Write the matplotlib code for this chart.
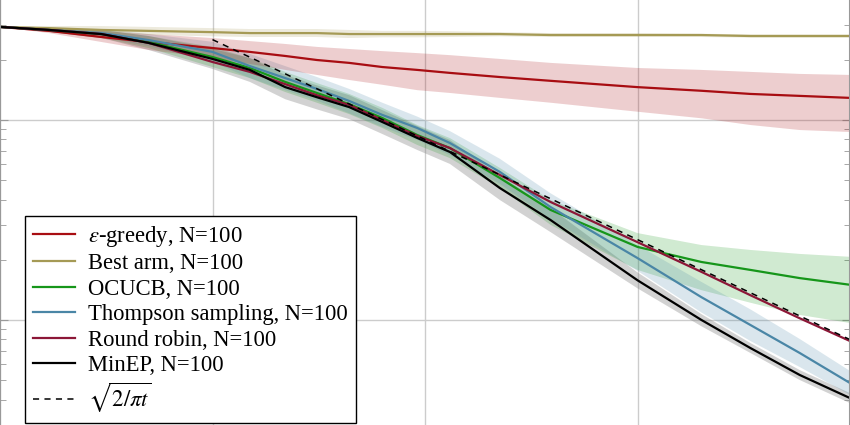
import numpy as np
import matplotlib
matplotlib.use("Agg")
import matplotlib.pyplot as plt

plt.rcParams['font.family'] = ['Liberation Serif', 'DejaVu Serif']
plt.rcParams['mathtext.fontset'] = 'stix'

# time steps (log axis)
t = [1, 1.7, 3, 5, 10, 15, 22, 31, 44, 63, 92, 131, 225, 390, 1000, 2000, 3400, 5800, 10000]

# epsilon-greedy
eps_mean = [0.292, 0.279, 0.260, 0.2455, 0.229, 0.219, 0.209, 0.1995, 0.193, 0.184, 0.178, 0.172,
            0.164, 0.157, 0.146, 0.140, 0.135, 0.132, 0.129]
eps_hi = [0.292, 0.288, 0.279, 0.269, 0.257, 0.248, 0.240, 0.232, 0.2265, 0.221, 0.216, 0.211,
          0.202, 0.193, 0.182, 0.178, 0.174, 0.170, 0.168]
eps_lo = [0.292, 0.272, 0.2455, 0.224, 0.204, 0.1905, 0.178, 0.168, 0.1585, 0.150, 0.141, 0.1365,
          0.129, 0.122, 0.110, 0.102, 0.0944, 0.0891, 0.0871]

# best arm
best_mean = [0.292, 0.288, 0.282, 0.279, 0.275, 0.272, 0.272, 0.272, 0.269, 0.269, 0.269, 0.269,
             0.269, 0.266, 0.266, 0.266, 0.263, 0.263, 0.263]
best_hi = [0.292, 0.295, 0.295, 0.292, 0.288, 0.285, 0.285, 0.285, 0.282, 0.279, 0.279, 0.278,
           0.275, 0.272, 0.272, 0.270, 0.268, 0.268, 0.268]
best_lo = [0.292, 0.282, 0.270, 0.266, 0.262, 0.260, 0.260, 0.260, 0.257, 0.259, 0.259, 0.260,
           0.262, 0.260, 0.260, 0.260, 0.258, 0.258, 0.258]

# OCUCB
oc_mean = [0.292, 0.282, 0.269, 0.2455, 0.2065, 0.182, 0.155, 0.1365, 0.120, 0.1023, 0.0841, 0.0724,
           0.0513, 0.0355, 0.0232, 0.0195, 0.0178, 0.0162, 0.0150]
oc_hi = [0.292, 0.288, 0.282, 0.263, 0.232, 0.204, 0.174, 0.153, 0.135, 0.115, 0.0944, 0.0812,
         0.0576, 0.0398, 0.0272, 0.0237, 0.0224, 0.0214, 0.0207]
oc_lo = [0.292, 0.276, 0.257, 0.229, 0.184, 0.162, 0.138, 0.122, 0.107, 0.0912, 0.0750, 0.0645,
         0.0457, 0.0299, 0.0178, 0.0141, 0.0122, 0.0106, 0.00966]

# Thompson sampling
ts_mean = [0.292, 0.282, 0.272, 0.251, 0.219, 0.186, 0.162, 0.143, 0.1245, 0.106, 0.0912, 0.0767,
           0.0550, 0.0367, 0.0204, 0.0130, 0.00944, 0.00684, 0.00484]
ts_hi = [0.292, 0.288, 0.285, 0.269, 0.246, 0.214, 0.186, 0.164, 0.143, 0.122, 0.104, 0.0880,
         0.0640, 0.0430, 0.0237, 0.0155, 0.0113, 0.00804, 0.00556]
ts_lo = [0.292, 0.276, 0.260, 0.234, 0.195, 0.162, 0.141, 0.125, 0.108, 0.0923, 0.0794, 0.0668,
         0.0479, 0.0320, 0.0176, 0.0109, 0.00785, 0.00582, 0.00422]

# round robin
rr_mean = [0.292, 0.282, 0.269, 0.243, 0.195, 0.174, 0.151, 0.133, 0.119, 0.100, 0.0832, 0.0724,
           0.0531, 0.0389, 0.0245, 0.0174, 0.0133, 0.0102, 0.00785]

# MinEP
me_mean = [0.292, 0.282, 0.269, 0.243, 0.202, 0.178, 0.146, 0.130, 0.116, 0.0977, 0.0813, 0.0692,
           0.0457, 0.0316, 0.0158, 0.0100, 0.00724, 0.00531, 0.00407]
me_hi = [0.292, 0.288, 0.282, 0.263, 0.227, 0.204, 0.168, 0.149, 0.133, 0.112, 0.0933, 0.0794,
         0.0525, 0.0363, 0.0173, 0.0107, 0.00767, 0.00562, 0.00431]
me_lo = [0.292, 0.276, 0.257, 0.224, 0.180, 0.155, 0.127, 0.113, 0.101, 0.0851, 0.0708, 0.0603,
         0.0398, 0.0275, 0.0144, 0.0093, 0.00684, 0.00501, 0.00384]

# reference curve sqrt(2/(pi t))
t_ref = np.logspace(1, 4, 200)
ref = np.sqrt(2 / (np.pi * t_ref))

c_eps = '#a80d12'
c_best = '#a59a55'
c_oc = '#16961a'
c_ts = '#4a86a6'
c_rr = '#8c1737'
c_me = '#000000'

fig = plt.figure(figsize=(8.5, 4.25), dpi=100)
ax = fig.add_axes([0, 0, 1, 1])
ax.set_xscale('log')
ax.set_yscale('log')

ax.fill_between(t, me_lo, me_hi, color='#808080', alpha=0.35, lw=0)
ax.fill_between(t, oc_lo, oc_hi, color=c_oc, alpha=0.2, lw=0)
ax.fill_between(t, ts_lo, ts_hi, color=c_ts, alpha=0.2, lw=0)
ax.fill_between(t, eps_lo, eps_hi, color=c_eps, alpha=0.2, lw=0)
ax.fill_between(t, best_lo, best_hi, color=c_best, alpha=0.2, lw=0)

lw = 1.6
ax.plot(t, eps_mean, color=c_eps, lw=lw, label=r'$\varepsilon$-greedy, N=100')
ax.plot(t, best_mean, color=c_best, lw=lw, label='Best arm, N=100')
ax.plot(t, oc_mean, color=c_oc, lw=lw, label='OCUCB, N=100')
ax.plot(t, ts_mean, color=c_ts, lw=lw, label='Thompson sampling, N=100')
ax.plot(t, rr_mean, color=c_rr, lw=lw, label='Round robin, N=100')
ax.plot(t, me_mean, color=c_me, lw=lw, label='MinEP, N=100')
ax.plot(t_ref, ref, color='k', ls=(0, (4, 3.5)), lw=1.1, label=r'$\sqrt{2/\pi t}$')

ax.set_xlim(1, 1e4)
ax.set_ylim(10 ** -2.525, 10 ** -0.4)

ax.grid(True, which='major', color='#cccccc', lw=1)
ax.set_axisbelow(True)
for s in ['top', 'bottom']:
    ax.spines[s].set_visible(False)
for s in ['left', 'right']:
    ax.spines[s].set_color('#999999')
    ax.spines[s].set_linewidth(1.5)
ax.tick_params(axis='y', which='both', direction='in', left=True, right=True,
               labelleft=False, color='#999999')
ax.tick_params(axis='y', which='major', length=6)
ax.tick_params(axis='y', which='minor', length=4)
ax.tick_params(axis='x', which='both', bottom=False, top=False, labelbottom=False)

leg = ax.legend(loc='lower left', bbox_to_anchor=(0.0294, 0.005), borderaxespad=0,
                fontsize=16.3, fancybox=False, framealpha=1, edgecolor='k',
                labelspacing=0.2, handlelength=1.85, handletextpad=0.6, borderpad=0.35)
leg.get_frame().set_linewidth(1.0)

fig.savefig('out.png', dpi=100)
